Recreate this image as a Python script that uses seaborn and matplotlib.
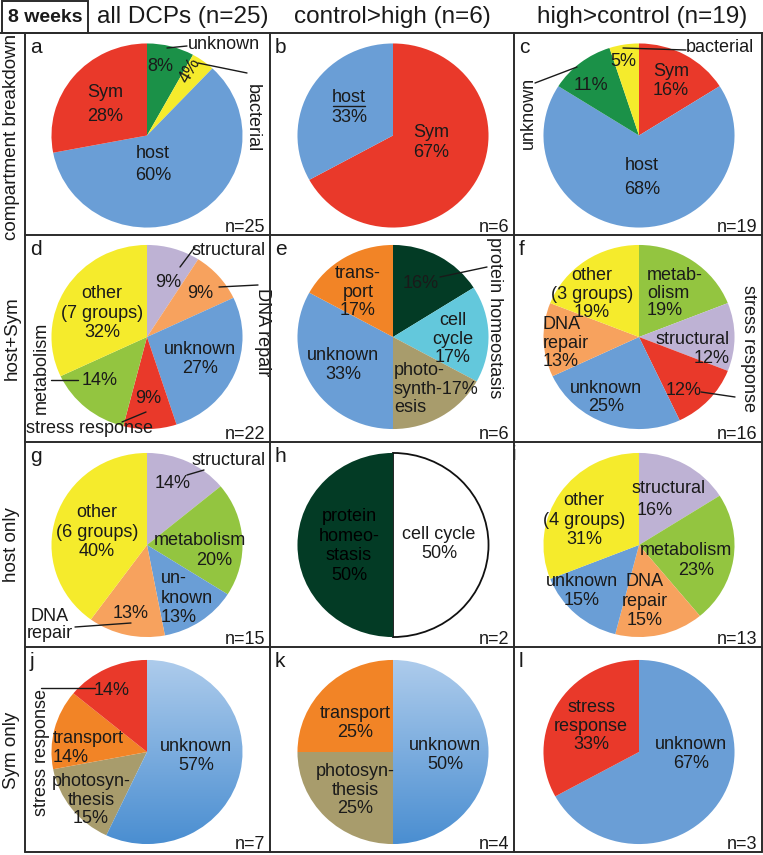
import numpy as np
import matplotlib
matplotlib.use("Agg")
import matplotlib.pyplot as plt
import seaborn as sns
from matplotlib.transforms import Affine2D
from matplotlib.lines import Line2D
from matplotlib.patches import Rectangle
from matplotlib.colors import LinearSegmentedColormap

W, H = 763, 855

# ---------------- data ----------------
col_titles = ["all DCPs (n=25)", "control>high (n=6)", "high>control (n=19)"]
row_titles = ["compartment breakdown", "host+Sym", "host only", "Sym only"]
panel_letters = list("abcdefghijkl")
n_counts = [25, 6, 19, 22, 6, 16, 15, 2, 13, 7, 4, 3]

cats_a = ["unknown", "bacterial", "host", "Sym"]
vals_a = [8, 4, 60, 28]
cats_b = ["Sym", "host"]
vals_b = [67, 33]
cats_c = ["Sym", "host", "unknown", "bacterial"]
vals_c = [16, 68, 11, 5]
cats_d = ["structural", "DNA repair", "unknown", "stress response", "metabolism", "other"]
vals_d = [9, 9, 27, 9, 14, 32]
cats_e = ["protein homeostasis", "cell cycle", "photosynthesis", "unknown", "transport"]
vals_e = [16, 17, 17, 33, 17]
cats_f = ["metabolism", "structural", "stress response", "unknown", "DNA repair", "other"]
vals_f = [19, 12, 12, 25, 13, 19]
cats_g = ["structural", "metabolism", "unknown", "DNA repair", "other"]
vals_g = [14, 20, 13, 13, 40]
cats_h = ["cell cycle", "protein homeostasis"]
vals_h = [50, 50]
cats_i = ["structural", "metabolism", "DNA repair", "unknown", "other"]
vals_i = [16, 23, 15, 15, 31]
cats_j = ["unknown", "photosynthesis", "transport", "stress response"]
vals_j = [57, 15, 14, 14]
cats_k = ["unknown", "photosynthesis", "transport"]
vals_k = [50, 25, 25]
cats_l = ["unknown", "stress response"]
vals_l = [67, 33]

panels = [(cats_a, vals_a), (cats_b, vals_b), (cats_c, vals_c),
          (cats_d, vals_d), (cats_e, vals_e), (cats_f, vals_f),
          (cats_g, vals_g), (cats_h, vals_h), (cats_i, vals_i),
          (cats_j, vals_j), (cats_k, vals_k), (cats_l, vals_l)]

# ---------------- styles ----------------
comp_palette = {"unknown": "#1B9148", "bacterial": "#F5EB2C",
                "host": "#6A9ED6", "Sym": "#E9392A"}
func_palette = {"unknown": "#6A9ED6", "other": "#F5EB2C", "structural": "#BEB2D4",
                "DNA repair": "#F7A25E", "metabolism": "#93C540",
                "stress response": "#E9392A", "protein homeostasis": "#033B25",
                "cell cycle": "#63C8DC", "photosynthesis": "#A89C6C",
                "transport": "#F28426"}
override = {"h": {"cell cycle": "#FFFFFF"}}
gradient_panels = {"j": 0, "k": 0}

sns.set_theme(style="white")
plt.rcParams["font.family"] = ["Liberation Sans", "DejaVu Sans"]

fig = plt.figure(figsize=(W / 100, H / 100), dpi=100)
fig.patch.set_facecolor("white")
PIX = Affine2D().scale(1, -1).translate(0, H)

TXT = "#1a1a1a"


def ptext(x, y, s, size=13, rot=0, ha="center", va="center", ls=1.2, color=TXT, **kw):
    fig.text(x, y, s, transform=PIX, fontsize=size, rotation=rot, ha=ha, va=va,
             linespacing=ls, color=color, multialignment=ha if ha != "center" else "center", **kw)


def pline(x1, y1, x2, y2, lw=1.0, color="#1a1a1a", z=5):
    fig.add_artist(Line2D([x1, x2], [y1, y2], transform=PIX, color=color, lw=lw, zorder=z))


# grid geometry (pixels)
col_edges = [25, 270, 514, 762]
row_edges = [33, 235, 442, 647, 852]
pie_cx = [147, 393, 639]
pie_cy = [135.5, 337, 545, 752]
PIE_W, PIE_H = 192, 185

# label layout: (template, x, y, rotation, linespacing, ha)
L = {
    "a": [("unknown", 224, 44), ("{p[0]}%", 160, 66), ("{p[1]}%", 190, 70, 60),
          ("bacterial", 252, 118, 270), ("Sym\n{p[3]}%", 105, 104.5, 0, 1.6),
          ("host\n{p[2]}%", 153, 164.5, 0, 1.35)],
    "b": [("host\n{p[1]}%", 349, 107.5, 0, 1.25), ("Sym\n{p[0]}%", 431, 142.5, 0, 1.25)],
    "c": [("bacterial", 720, 47), ("{p[3]}%", 623, 61), ("Sym\n{p[0]}%", 671, 81, 0, 1.1),
          ("{p[2]}%", 591, 85), ("unknown", 528, 113, 90),
          ("host\n{p[1]}%", 642, 177.5, 0, 1.5)],
    "d": [("structural", 229, 250), ("{p[0]}%", 168, 282), ("{p[1]}%", 200, 293),
          ("DNA repair", 263, 332, 270), ("other\n(7 groups)\n{p[5]}%", 102, 313, 0, 1.2),
          ("unknown\n{p[2]}%", 200, 359, 0, 1.1), ("metabolism", 41, 368, 90),
          ("{p[4]}%", 100, 380), ("{p[3]}%", 148, 398), ("stress response", 90, 428)],
    "e": [("trans-\nport\n{p[4]}%", 358, 292, 0, 1.1), ("{p[0]}%", 421, 283),
          ("protein homeostasis", 494, 318, 270), ("cell\ncycle\n{p[1]}%", 453, 339, 0, 1.1),
          ("unknown\n{p[3]}%", 343, 365, 0, 1.2),
          ("photo-\nsynth-{p[2]}%\nesis", 394, 389, 0, 1.1, "left")],
    "f": [("other\n(3 groups)\n{p[5]}%", 592, 294, 0, 1.1),
          ("metab-\nolism\n{p[0]}%", 647, 293, 0, 1.05, "left"),
          ("stress response", 749, 348, 270), ("DNA\nrepair\n{p[4]}%", 543, 343, 0, 1.1, "left"),
          ("structural\n{p[1]}%", 730, 349, 0, 1.1, "right"),
          ("unknown\n{p[3]}%", 606, 397.5, 0, 1.1), ("{p[2]}%", 684, 390)],
    "g": [("structural", 229, 460), ("{p[0]}%", 173, 483),
          ("other\n(6 groups)\n{p[4]}%", 97, 532, 0, 1.2), ("metabolism", 200, 540),
          ("{p[1]}%", 214, 560), ("un-\nknown\n{p[2]}%", 161, 598, 0, 1.2, "left"),
          ("{p[3]}%", 131, 613), ("DNA\nrepair", 50, 625, 0, 0.95)],
    "h": [("cell cycle\n{p[0]}%", 439, 544, 0, 1.2)],
    "i": [("structural", 669, 488), ("{p[0]}%", 655, 510),
          ("other\n(4 groups)\n{p[4]}%", 584, 520, 0, 1.2), ("metabolism", 686, 550),
          ("{p[1]}%", 696, 570), ("unknown\n{p[3]}%", 582, 591, 0, 1.1),
          ("DNA\nrepair\n{p[2]}%", 645, 601, 0, 1.2)],
    "j": [("{p[3]}%", 112, 690), ("stress response", 41, 752, 90),
          ("transport\n{p[2]}%", 53, 748, 0, 1.1, "left"),
          ("photosyn-\nthesis\n{p[1]}%", 91, 800, 0, 1.1),
          ("unknown\n{p[0]}%", 196, 756, 0, 1.2)],
    "k": [("transport\n{p[2]}%", 355, 723, 0, 1.2),
          ("photosyn-\nthesis\n{p[1]}%", 355, 790, 0, 1.1),
          ("unknown\n{p[0]}%", 445, 755, 0, 1.2)],
    "l": [("stress\nresponse\n{p[1]}%", 591, 726, 0, 1.1),
          ("unknown\n{p[0]}%", 691, 754, 0, 1.1)],
}
leaders = {
    "a": [(167, 48, 187, 46), (198, 63, 247, 73)],
    "b": [(333, 106, 365, 106)],
    "c": [(623, 48, 686, 50), (535, 83, 577, 67)],
    "d": [(195, 247, 180, 267), (219, 287, 258, 285), (51, 380, 78, 380), (122, 422, 146, 412)],
    "e": [(440, 277, 487, 267)],
    "f": [(701, 392, 735, 397)],
    "g": [(187, 475, 204, 470), (75, 627, 131, 623)],
    "j": [(41, 688, 95, 688)],
}

# ---------------- pies ----------------
for idx, (cats, vals) in enumerate(panels):
    r, c = divmod(idx, 3)
    letter = panel_letters[idx]
    pal = comp_palette if r == 0 else func_palette
    colors = [override.get(letter, {}).get(k, pal[k]) for k in cats]
    cx, cy = pie_cx[c], pie_cy[r]
    ax = fig.add_axes([(cx - PIE_W / 2) / W, 1 - (cy + PIE_H / 2) / H, PIE_W / W, PIE_H / H])
    wedges, _ = ax.pie(vals, colors=colors, startangle=90, counterclock=False,
                       radius=1.0, wedgeprops=dict(linewidth=0))
    if letter == "h":
        for w, k in zip(wedges, cats):
            if k == "cell cycle":
                w.set_edgecolor("#111111")
                w.set_linewidth(1.3)
    if letter in gradient_panels:
        w = wedges[gradient_panels[letter]]
        cmap = LinearSegmentedColormap.from_list("g", ["#AECCEC", "#4A8ED1"])
        grad = np.linspace(0, 1, 256).reshape(-1, 1)
        im = ax.imshow(grad, extent=(-1, 1, -1, 1), cmap=cmap, aspect="auto",
                       origin="upper", zorder=w.get_zorder())
        im.set_clip_path(w)
        w.set_facecolor("none")
    ax.set_aspect("auto")
    ax.set_xlim(-1.005, 1.005)
    ax.set_ylim(-1.005, 1.005)
    ax.axis("off")

    # labels
    p = vals
    for ent in L.get(letter, []):
        tpl, x, y = ent[0], ent[1], ent[2]
        rot = ent[3] if len(ent) > 3 else 0
        ls = ent[4] if len(ent) > 4 else 1.2
        ha = ent[5] if len(ent) > 5 else "center"
        ptext(x, y, tpl.format(p=p), rot=rot, ls=ls, ha=ha)
    for ln in leaders.get(letter, []):
        pline(*ln)

    # panel letter and n
    x0, x1 = col_edges[c], col_edges[c + 1]
    y0, y1 = row_edges[r], row_edges[r + 1]
    if letter == "i":
        fig.text(512, 460, letter, transform=PIX, fontsize=15, ha="left", va="baseline",
                 color=TXT, zorder=1)
    else:
        ptext(x0 + 5, y0 + 20, letter, size=15, ha="left", va="baseline")
    ptext(x1 - 5, y1 - 3, f"n={n_counts[idx]}", size=13, ha="right", va="baseline")

# protein homeostasis text on dark green (panel h)
ptext(349, 546, "protein\nhomeo-\nstasis\n{}%".format(vals_h[1]), ls=1.2, color="#000000")

# ---------------- grid and headers ----------------
LW = 1.4
GC = "#2b2b2b"
for x in col_edges:
    pline(x, row_edges[0], x, row_edges[-1], lw=LW, color=GC, z=6)
for y in row_edges[1:]:
    pline(col_edges[0], y, col_edges[-1], y, lw=LW, color=GC, z=6)
pline(0, row_edges[0], W, row_edges[0], lw=LW, color=GC, z=6)
fig.add_artist(Rectangle((2, H - 33), 86, 32.5, transform=None, fill=False,
                         edgecolor=GC, lw=LW, zorder=6))

ptext(45, 17, "8 weeks", size=14, fontweight="bold")
for c, t in enumerate(col_titles):
    ptext([183, 392, 642][c], 17, t, size=17.5)

for r, t in enumerate(row_titles):
    ptext(12, [137, 338, 545, 750][r], t, size=13.5, rot=90)

fig.savefig("out.png", dpi=100, facecolor="white")
